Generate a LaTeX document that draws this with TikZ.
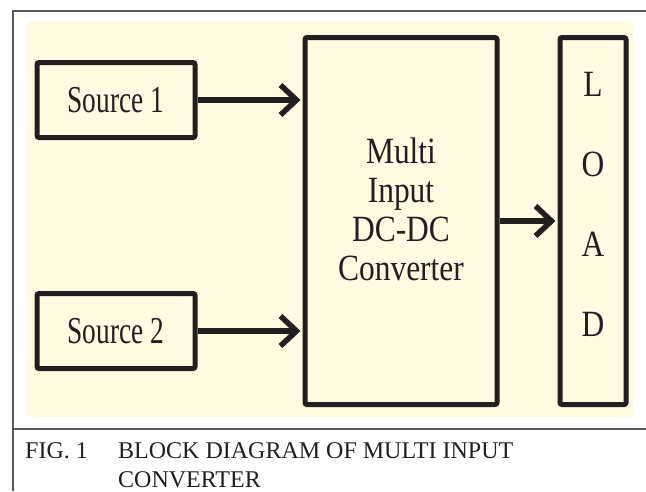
\documentclass[tikz,border=0pt]{standalone}
\usepackage{fontspec}
\setmainfont{Liberation Serif}
\newfontfamily\BlockFont[FakeStretch=0.72]{Liberation Serif}
\newfontfamily\WideFont[FakeStretch=0.85]{Liberation Serif}
\usepackage{xcolor}
\definecolor{ColBg}{RGB}{255,251,226}
\definecolor{ColLine}{RGB}{35,31,32}
\definecolor{ColFrame}{RGB}{90,90,90}
\usetikzlibrary{arrows.meta}
\tikzstyle{Block}=[draw=ColLine,line width=5pt,rounded corners=2pt,
inner sep=0pt,text=ColLine,align=center]
\tikzstyle{BlockText}=[inner sep=0pt,text=ColLine,align=center]
\tikzstyle{Edge}=[draw=ColLine,line width=5.5pt,shorten >=2pt,
-{Straight Barb[length=16pt,width=30pt]}]
\tikzstyle{Frame}=[draw=ColFrame,line width=1.4pt]
\tikzstyle{Caption}=[font=\fontsize{24}{29}\selectfont,text=ColLine,
inner sep=0pt,anchor=base west]

\begin{document}
\begin{tikzpicture}[x=1pt,y=-1pt]
    \useasboundingbox(0,0)rectangle(646,491);
    \fill[ColBg](27,22)rectangle(633,417);
    \draw[Frame](646,11)--(13,11)--(13,491);
    \draw[Frame](13,429)--(646,429);
    \node[Block,minimum width=158pt,minimum height=75pt,
        font=\BlockFont\fontsize{38}{40}\selectfont](src1)at(116,100)
        {Source 1};
    \node[Block,minimum width=158pt,minimum height=75pt,
        font=\BlockFont\fontsize{38}{40}\selectfont](src2)at(116,331)
        {Source 2};
    \node[Block,minimum width=192pt,minimum height=367pt](conv)
        at(401,221){};
    \node[Block,minimum width=66pt,minimum height=367pt](load)
        at(593,221){};
    \node[BlockText,font=\WideFont\fontsize{37}{39}\selectfont](convtxt)
        at(401,209){Multi\\Input\\DC-DC\\Converter};
    \node[BlockText,font=\WideFont\fontsize{37}{80}\selectfont](loadtxt)
        at(593,204){L\\O\\A\\D};
    \draw[Edge](src1)--(src1-|conv.west);
    \draw[Edge](src2)--(src2-|conv.west);
    \draw[Edge](conv)--(load);
    \node[Caption](fig)at(25,458){FIG. 1};
    \node[Caption](cap)at(118,458){BLOCK DIAGRAM OF MULTI INPUT};
    \node[Caption](capb)at(118,487){CONVERTER};
\end{tikzpicture}
\end{document}
